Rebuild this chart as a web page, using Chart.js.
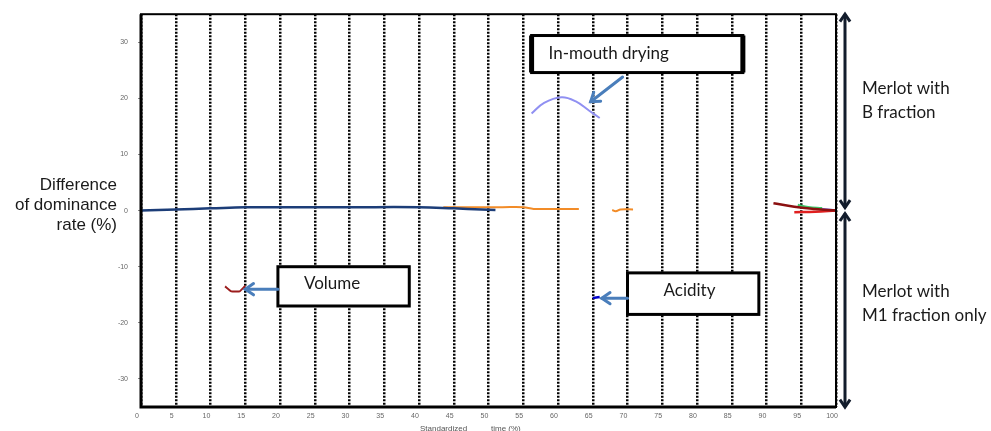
<!DOCTYPE html>
<html>
<head>
<meta charset="utf-8">
<script src="https://cdn.jsdelivr.net/npm/chart.js@4"></script>
<style>
  html, body { margin: 0; padding: 0; background: #fff; }
  #wrap { position: relative; width: 991px; height: 431px; }
</style>
</head>
<body>
<div id="wrap"><canvas id="c" width="991" height="431"></canvas></div>
<script>
'use strict';

// ── axis ticks ──
var xTicks = [0,5,10,15,20,25,30,35,40,45,50,55,60,65,70,75,80,85,90,95,100];
var yTicks = [-30,-20,-10,0,10,20,30];

// ── series (x = standardized time %, y = difference of dominance rate %) ──
var navyX   = [0, 5, 10, 15, 20, 30, 40, 45, 49, 51];
var navyY   = [0, 0.2, 0.4, 0.6, 0.6, 0.6, 0.6, 0.4, 0.2, 0.1];
var orangeX = [43.5, 47, 52, 55, 56.5, 60, 63];
var orangeY = [0.6, 0.6, 0.6, 0.6, 0.3, 0.3, 0.3];
var orange2X = [67.8, 68.3, 69, 70.8];
var orange2Y = [0.1, -0.1, 0.2, 0.2];
var dryingX = [56.2, 58, 60.5, 62.5, 64.5, 66];
var dryingY = [17.3, 19.2, 20.2, 19.5, 17.8, 16.5];
var volumeX = [12.1, 13, 14.2, 15];
var volumeY = [-13.5, -14.4, -14.4, -13.4];
var acidX   = [65, 66];
var acidY   = [-15.6, -15.4];
var endRedX = [91, 94, 97, 100];
var endRedY = [1.3, 0.7, 0.3, 0];
var greenX  = [94.5, 96, 98];
var greenY  = [1.0, 0.6, 0.4];
var redX    = [94, 97, 100];
var redY    = [-0.3, -0.2, 0];
var lilacX  = [97, 100];
var lilacY  = [0.4, 0];

// ── annotation boxes & arrows (data units) ──
var boxLabels = ['In-mouth drying', 'Volume', 'Acidity'];
var boxX1 = [56.2, 19.7, 70.0];
var boxX2 = [86.6, 38.6, 88.9];
var boxY1 = [31.2, -10.0, -11.1];
var boxY2 = [24.6, -17.0, -18.5];
var arrowFromX = [69.3, 19.7, 70.0];
var arrowFromY = [23.8, -14.0, -15.6];
var arrowToX   = [64.7, 15.0, 66.3];
var arrowToY   = [19.4, -14.0, -15.6];

function pts(xs, ys){
  return xs.map(function(x, i){ return {x: x, y: ys[i]}; });
}
function ds(xs, ys, color, w, tension){
  return { data: pts(xs, ys), borderColor: color, borderWidth: w || 2, pointRadius: 0,
           tension: tension === undefined ? 0.4 : tension, fill: false };
}

function arrowHead(ctx, x1, y1, x2, y2, size){
  var a = Math.atan2(y2 - y1, x2 - x1);
  ctx.beginPath();
  ctx.moveTo(x2 - size * Math.cos(a - 0.6), y2 - size * Math.sin(a - 0.6));
  ctx.lineTo(x2, y2);
  ctx.lineTo(x2 - size * Math.cos(a + 0.6), y2 - size * Math.sin(a + 0.6));
  ctx.stroke();
}

// frame, titles, callout boxes, side arrows
var decor = {
  id: 'decor',
  afterDatasetsDraw: function(chart){
    var ctx = chart.ctx, a = chart.chartArea;
    var xs = chart.scales.x, ys = chart.scales.y;
    ctx.save();

    // plot frame
    ctx.strokeStyle = '#000';
    ctx.lineWidth = 2;
    ctx.strokeRect(a.left, a.top, a.right - a.left, a.bottom - a.top);
    ctx.lineWidth = 3;
    ctx.beginPath();
    ctx.moveTo(a.left, a.top); ctx.lineTo(a.left, a.bottom); ctx.lineTo(a.right, a.bottom);
    ctx.stroke();

    // callout boxes
    ctx.font = '17px Lato, sans-serif';
    ctx.textBaseline = 'middle';
    ctx.textAlign = 'left';
    var textDx = [17, 26, 36];
    var textDy = [-1, -3, -3];
    for (var i = 0; i < boxLabels.length; i++){
      var l = xs.getPixelForValue(boxX1[i]), r = xs.getPixelForValue(boxX2[i]);
      var t = ys.getPixelForValue(boxY1[i]), b = ys.getPixelForValue(boxY2[i]);
      ctx.fillStyle = '#fff';
      ctx.fillRect(l, t, r - l, b - t);
      ctx.strokeStyle = '#000';
      ctx.lineWidth = 3;
      ctx.strokeRect(l, t, r - l, b - t);
      if (i === 0){
        ctx.lineWidth = 5;
        ctx.beginPath();
        ctx.moveTo(l, t); ctx.lineTo(l, b); ctx.moveTo(r, t); ctx.lineTo(r, b);
        ctx.stroke();
      }
      ctx.fillStyle = '#1a1a1a';
      ctx.fillText(boxLabels[i], l + textDx[i], (t + b) / 2 + textDy[i]);

      // pointer arrow
      var fx = xs.getPixelForValue(arrowFromX[i]), fy = ys.getPixelForValue(arrowFromY[i]);
      var px = xs.getPixelForValue(arrowToX[i]), py = ys.getPixelForValue(arrowToY[i]);
      ctx.strokeStyle = '#4a7ebb';
      ctx.lineWidth = 3;
      ctx.lineCap = 'round';
      ctx.beginPath(); ctx.moveTo(fx, fy); ctx.lineTo(px, py); ctx.stroke();
      arrowHead(ctx, fx, fy, px, py, 10);
      ctx.lineCap = 'butt';
    }

    // side double arrows
    var ax = a.right + 9, mid = ys.getPixelForValue(0);
    ctx.strokeStyle = '#121c2c';
    ctx.lineWidth = 3;
    ctx.beginPath();
    ctx.moveTo(ax, a.top); ctx.lineTo(ax, mid - 3);
    ctx.moveTo(ax, mid + 3); ctx.lineTo(ax, a.bottom);
    ctx.stroke();
    arrowHead(ctx, ax, mid, ax, a.top, 9);
    arrowHead(ctx, ax, a.top, ax, mid - 3, 9);
    arrowHead(ctx, ax, a.bottom, ax, mid + 3, 9);
    arrowHead(ctx, ax, mid, ax, a.bottom, 9);

    ctx.fillStyle = '#1a1a1a';
    ctx.font = '17px Lato, sans-serif';
    ctx.textAlign = 'left';
    ctx.fillText('Merlot with', 862, 89);
    ctx.fillText('B fraction', 862, 113);
    ctx.fillText('Merlot with', 862, 292);
    ctx.fillText('M1 fraction only', 862, 316);

    // y title
    ctx.font = '17px "Liberation Sans", Arial, sans-serif';
    ctx.textAlign = 'right';
    ctx.fillText('Difference', 117, 185);
    ctx.fillText('of dominance', 117, 205);
    ctx.fillText('rate (%)', 117, 225);

    // x title (clipped at the bottom edge)
    ctx.font = '8px "Liberation Sans", Arial, sans-serif';
    ctx.fillStyle = '#555';
    ctx.textAlign = 'left';
    ctx.fillText('Standardized', 420, 429);
    ctx.fillText('time (%)', 491, 429);
    ctx.restore();
  }
};

new Chart(document.getElementById('c'), {
  type: 'line',
  data: {
    datasets: [
      ds(navyX, navyY, '#1c3d78', 2.5),
      ds(orangeX, orangeY, '#f28c28'),
      ds(orange2X, orange2Y, '#f28c28'),
      ds(dryingX, dryingY, '#9090f2'),
      ds(volumeX, volumeY, '#9b1c1c', 2, 0.1),
      ds(acidX, acidY, '#0000cc', 2.5),
      ds(endRedX, endRedY, '#8b1010', 2.5),
      ds(greenX, greenY, '#3ec96b', 2.5),
      ds(redX, redY, '#e02020', 2.5),
      ds(lilacX, lilacY, '#8080ff', 2.5)
    ]
  },
  options: {
    responsive: false,
    animation: false,
    layout: { padding: { top: 14, right: 155, left: 0, bottom: 0 } },
    plugins: { legend: { display: false }, tooltip: { enabled: false } },
    scales: {
      x: {
        type: 'linear', min: 0, max: 100,
        afterBuildTicks: function(s){ s.ticks = xTicks.map(function(v){ return {value: v}; }); },
        afterFit: function(s){ s.height = 24; },
        grid: { color: '#000', lineWidth: 2.5, drawTicks: false, tickLength: 0 },
        border: { display: false, dash: [2, 1.5] },
        ticks: { color: '#666', font: { size: 7, family: 'Liberation Sans, Arial' }, padding: 5,
                 labelOffset: -4, maxRotation: 0, autoSkip: false }
      },
      y: {
        type: 'linear', min: -35, max: 35,
        afterBuildTicks: function(s){ s.ticks = yTicks.map(function(v){ return {value: v}; }); },
        afterFit: function(s){ s.width = 141; },
        grid: { drawOnChartArea: false, color: '#888', tickLength: 3 },
        border: { display: false },
        ticks: { color: '#666', font: { size: 7, family: 'Liberation Sans, Arial' }, padding: 10 }
      }
    }
  },
  plugins: [decor]
});
</script>
</body>
</html>
